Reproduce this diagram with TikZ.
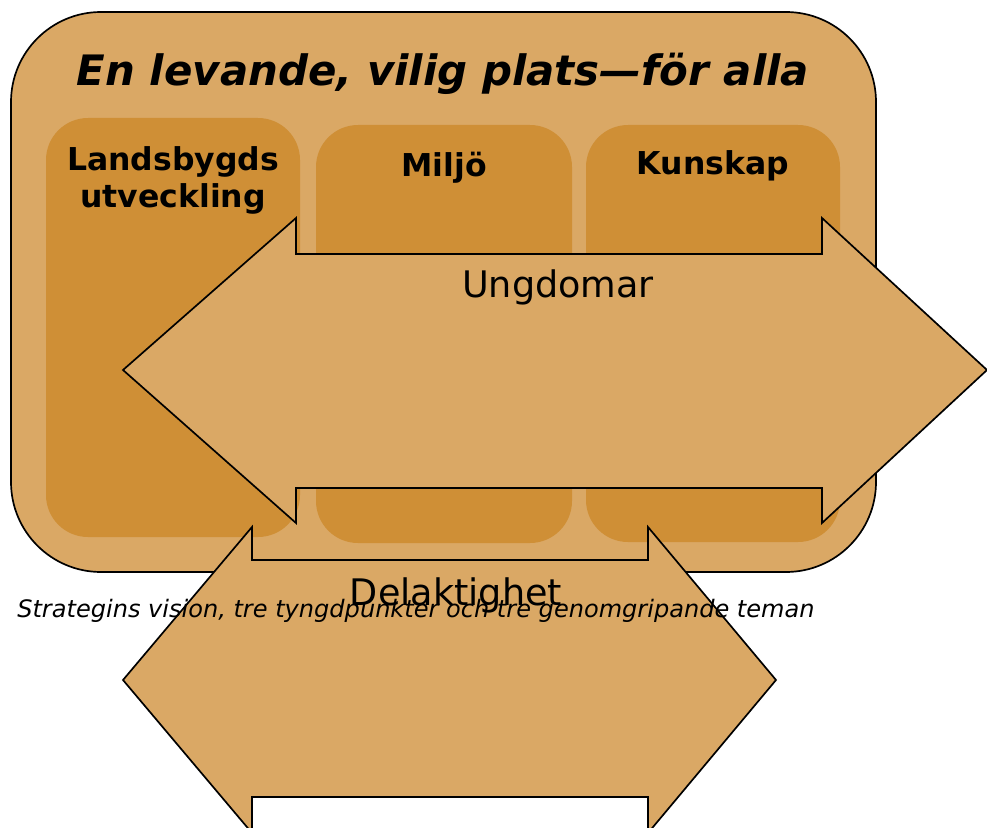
\documentclass[tikz,border=0pt]{standalone}
\usepackage{fontspec}
\setmainfont{DejaVu Sans}
\usepackage{tikz}
\usetikzlibrary{positioning}
\usepackage{xcolor}
\definecolor{tanlight}{RGB}{218,168,101}
\definecolor{tandark}{RGB}{207,143,54}
\tikzset{
  panel/.style={fill=tanlight, draw=black, line width=1.2pt},
  pillar/.style={fill=tandark},
  bigarrow/.style={fill=tanlight, draw=black, line width=1.2pt, line join=miter},
  head/.style={anchor=base, align=center, font=\bfseries\fontsize{22.4}{26.3}\selectfont},
  theme/.style={anchor=base, font=\fontsize{26}{31}\selectfont},
}

\begin{document}
\begin{tikzpicture}[x=0.025cm, y=-0.025cm]
  \useasboundingbox (0,0) rectangle (987,828);
  % vision frame
  \draw[panel, rounded corners=2.25cm] (11,12) rectangle (876,572);
  \node[anchor=base, font=\bfseries\itshape\fontsize{29.8}{34}\selectfont] (vision) at (443,86) {En levande, vilig plats—för alla};
  % three focus areas
  \foreach \xa/\ya/\xb/\yb in {46/118/300/537, 316/125/572/543, 586/125/840/542}{
    \fill[pillar, rounded corners=1.05cm] (\xa,\ya) rectangle (\xb,\yb);
  }
  \node[head] (land) at (173,207) {Landsbygds\\utveckling};
  \node[head] (miljo) at (444,176) {Miljö};
  \node[head] (kunskap) at (713,175) {Kunskap};
  % cross-cutting themes
  \draw[bigarrow] (123,370) -- (296,218) -- (296,254) -- (822,254) -- (822,218) -- (987,370)
    -- (822,523) -- (822,488) -- (296,488) -- (296,523) -- cycle;
  \node[theme] (ungdomar) at (558,297) {Ungdomar};
  \draw[bigarrow] (123,680) -- (252,527) -- (252,560) -- (648,560) -- (648,527) -- (776,680)
    -- (648,833) -- (648,797) -- (252,797) -- (252,833) -- cycle;
  \node[theme] (delaktighet) at (456,605) {Delaktighet};
  \node[anchor=base west, inner sep=0pt, font=\itshape\fontsize{17.1}{20}\selectfont] (caption) at (17,617)
    {Strategins vision, tre tyngdpunkter och tre genomgripande teman};
\end{tikzpicture}
\end{document}
